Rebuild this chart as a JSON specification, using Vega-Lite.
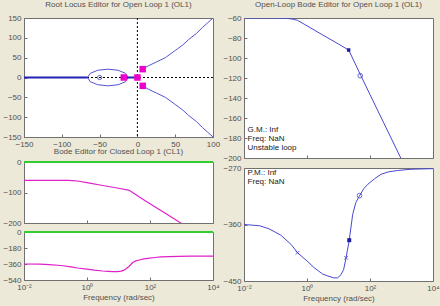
{
 "$schema": "https://vega.github.io/schema/vega-lite/v6.json",
 "background": "#ECE9D8",
 "padding": {"left": 2, "top": 0, "right": 12, "bottom": 12},
 "config": {
  "font": "Liberation Sans",
  "view": {"stroke": "#707070", "fill": "white"},
  "axis": {"domain": false, "grid": false, "ticks": true, "tickSize": -3, "tickColor": "#707070", "labelFont": "Liberation Sans", "labelFontSize": 8, "labelColor": "#505050", "labelPadding": 6, "labelFlush": false, "labelOverlap": false, "labelBound": false, "titleFont": "Liberation Sans", "titleFontSize": 8, "titleColor": "#505050", "titleFontWeight": "normal"},
  "title": {"font": "Liberation Sans", "fontSize": 8, "fontWeight": "normal", "color": "#505050", "anchor": "middle", "baseline": "bottom", "offset": 5}
 },
 "datasets": {
  "rlLoci": [
   {"b": "e", "i": 0, "x": -12, "y": 0}, {"b": "e", "i": 1, "x": -15.6, "y": 10.5}, {"b": "e", "i": 2, "x": -25.5, "y": 18.2}, {"b": "e", "i": 3, "x": -39, "y": 21}, {"b": "e", "i": 4, "x": -52.5, "y": 18.2}, {"b": "e", "i": 5, "x": -62.4, "y": 10.5}, {"b": "e", "i": 6, "x": -66, "y": 0}, {"b": "e", "i": 7, "x": -62.4, "y": -10.5}, {"b": "e", "i": 8, "x": -52.5, "y": -18.2}, {"b": "e", "i": 9, "x": -39, "y": -21}, {"b": "e", "i": 10, "x": -25.5, "y": -18.2}, {"b": "e", "i": 11, "x": -15.6, "y": -10.5}, {"b": "e", "i": 12, "x": -12, "y": 0},
   {"b": "u", "i": 0, "x": 7, "y": 21}, {"b": "u", "i": 1, "x": 15, "y": 30}, {"b": "u", "i": 2, "x": 25, "y": 39}, {"b": "u", "i": 3, "x": 37, "y": 50}, {"b": "u", "i": 4, "x": 50, "y": 68}, {"b": "u", "i": 5, "x": 60, "y": 82}, {"b": "u", "i": 6, "x": 68, "y": 96}, {"b": "u", "i": 7, "x": 78, "y": 111}, {"b": "u", "i": 8, "x": 86, "y": 126}, {"b": "u", "i": 9, "x": 93, "y": 138}, {"b": "u", "i": 10, "x": 100, "y": 150}, {"b": "u", "i": 11, "x": 104, "y": 157},
   {"b": "l", "i": 0, "x": 7, "y": -21}, {"b": "l", "i": 1, "x": 15, "y": -30}, {"b": "l", "i": 2, "x": 25, "y": -39}, {"b": "l", "i": 3, "x": 37, "y": -50}, {"b": "l", "i": 4, "x": 50, "y": -68}, {"b": "l", "i": 5, "x": 60, "y": -82}, {"b": "l", "i": 6, "x": 68, "y": -96}, {"b": "l", "i": 7, "x": 78, "y": -111}, {"b": "l", "i": 8, "x": 86, "y": -126}, {"b": "l", "i": 9, "x": 93, "y": -138}, {"b": "l", "i": 10, "x": 100, "y": -150}, {"b": "l", "i": 11, "x": 104, "y": -157}
  ],
  "rlAxis": [
   {"b": "a", "i": 0, "x": -150, "y": 0}, {"b": "a", "i": 1, "x": -66, "y": 0},
   {"b": "c", "i": 0, "x": -18, "y": 0}, {"b": "c", "i": 1, "x": 0, "y": 0}
  ],
  "poles": [{"x": -18, "y": 0}, {"x": 0, "y": 0}, {"x": 7, "y": 21}, {"x": 7, "y": -21}],
  "mag": [
   {"f": 0.01, "db": -60}, {"f": 0.1, "db": -60}, {"f": 0.251, "db": -60.5}, {"f": 0.355, "db": -61.2}, {"f": 0.501, "db": -62.3}, {"f": 1, "db": -67.8}, {"f": 3.16, "db": -77}, {"f": 10, "db": -86}, {"f": 20.9, "db": -92}, {"f": 25.1, "db": -97}, {"f": 51.3, "db": -117.7}, {"f": 100, "db": -136.6}, {"f": 316, "db": -169}, {"f": 1000, "db": -201.5}
  ],
  "phase": [
   {"f": 0.01, "deg": -360}, {"f": 0.0316, "deg": -362}, {"f": 0.0631, "deg": -367}, {"f": 0.148, "deg": -377}, {"f": 0.316, "deg": -392}, {"f": 0.501, "deg": -405}, {"f": 1, "deg": -418}, {"f": 1.7, "deg": -429}, {"f": 3.16, "deg": -439}, {"f": 4.57, "deg": -442}, {"f": 7.08, "deg": -445}, {"f": 9.33, "deg": -445}, {"f": 12, "deg": -440}, {"f": 14.5, "deg": -432}, {"f": 17.4, "deg": -413}, {"f": 21.9, "deg": -385}, {"f": 28.2, "deg": -344}, {"f": 35.5, "deg": -325}, {"f": 45.7, "deg": -315}, {"f": 63.1, "deg": -303}, {"f": 85.1, "deg": -296}, {"f": 141, "deg": -287}, {"f": 224, "deg": -280}, {"f": 398, "deg": -276}, {"f": 759, "deg": -274}, {"f": 1995, "deg": -272}, {"f": 10000, "deg": -271}
  ],
  "magMk": [{"f": 21, "db": -92, "m": "s"}, {"f": 49, "db": -117.7, "m": "o"}],
  "phaseMk": [{"f": 0.501, "deg": -405, "m": "x"}, {"f": 17.4, "deg": -413, "m": "x"}, {"f": 21.9, "deg": -385, "m": "s"}, {"f": 46.5, "deg": -314, "m": "o"}],
  "magTxt": [{"f": 0.013, "db": -172, "t": "G.M.: Inf"}, {"f": 0.013, "db": -181, "t": "Freq: NaN"}, {"f": 0.013, "db": -190, "t": "Unstable loop"}],
  "phaseTxt": [{"f": 0.013, "deg": -278, "t": "P.M.: Inf"}, {"f": 0.013, "deg": -292, "t": "Freq: NaN"}]
 },
 "hconcat": [
  {
   "vconcat": [
    {
     "width": 189, "height": 119,
     "title": {"text": "Root Locus Editor for Open Loop 1 (OL1)"},
     "layer": [
      {"data": {"values": [{"x": 0}]}, "mark": {"type": "rule", "color": "#000000", "strokeDash": [2, 2], "strokeWidth": 1},
       "encoding": {"x": {"field": "x", "type": "quantitative", "scale": {"domain": [-150, 100], "nice": false}, "axis": {"values": [-150, -100, -50, 0, 50, 100], "title": null, "labelOverlap": false}}}},
      {"data": {"values": [{"y": 0}]}, "mark": {"type": "rule", "color": "#000000", "strokeDash": [2, 2], "strokeWidth": 1},
       "encoding": {"y": {"field": "y", "type": "quantitative", "scale": {"domain": [-150, 150], "nice": false}, "axis": {"values": [-150, -100, -50, 0, 50, 100, 150], "title": null, "labelOverlap": false}}}},
      {"data": {"name": "rlLoci"}, "mark": {"type": "line", "color": "#5454D4", "strokeWidth": 1, "clip": true},
       "encoding": {"x": {"field": "x", "type": "quantitative", "scale": {"domain": [-150, 100], "nice": false}, "axis": {"values": [-150, -100, -50, 0, 50, 100], "title": null, "labelOverlap": false}}, "y": {"field": "y", "type": "quantitative", "scale": {"domain": [-150, 150], "nice": false}, "axis": {"values": [-150, -100, -50, 0, 50, 100, 150], "title": null, "labelOverlap": false}}, "detail": {"field": "b"}, "order": {"field": "i"}}},
      {"data": {"name": "rlAxis"}, "mark": {"type": "line", "color": "#2222B4", "strokeWidth": 2, "clip": true},
       "encoding": {"x": {"field": "x", "type": "quantitative", "scale": {"domain": [-150, 100], "nice": false}, "axis": {"values": [-150, -100, -50, 0, 50, 100], "title": null, "labelOverlap": false}}, "y": {"field": "y", "type": "quantitative", "scale": {"domain": [-150, 150], "nice": false}, "axis": {"values": [-150, -100, -50, 0, 50, 100, 150], "title": null, "labelOverlap": false}}, "detail": {"field": "b"}, "order": {"field": "i"}}},
      {"data": {"values": [{"x": -50, "y": 0}]}, "mark": {"type": "point", "shape": "circle", "filled": false, "color": "#2222B4", "size": 18, "strokeWidth": 1},
       "encoding": {"x": {"field": "x", "type": "quantitative", "scale": {"domain": [-150, 100], "nice": false}, "axis": {"values": [-150, -100, -50, 0, 50, 100], "title": null, "labelOverlap": false}}, "y": {"field": "y", "type": "quantitative", "scale": {"domain": [-150, 150], "nice": false}, "axis": {"values": [-150, -100, -50, 0, 50, 100, 150], "title": null, "labelOverlap": false}}}},
      {"data": {"name": "poles"}, "mark": {"type": "square", "color": "#EE00CC", "size": 42, "opacity": 1},
       "encoding": {"x": {"field": "x", "type": "quantitative", "scale": {"domain": [-150, 100], "nice": false}, "axis": {"values": [-150, -100, -50, 0, 50, 100], "title": null, "labelOverlap": false}}, "y": {"field": "y", "type": "quantitative", "scale": {"domain": [-150, 150], "nice": false}, "axis": {"values": [-150, -100, -50, 0, 50, 100, 150], "title": null, "labelOverlap": false}}}}
     ]
    },
    {
     "width": 189, "height": 7,
     "view": {"stroke": null, "fill": null},
     "data": {"values": []},
     "mark": {"type": "point"},
     "encoding": {}
    },
    {
     "width": 189, "height": 61,
     "title": {"text": "Bode Editor for Closed Loop 1 (CL1)", "offset": 2},
     "layer": [
      {"data": {"values": [{"y": 0}]}, "mark": {"type": "rule", "color": "#33CC33", "strokeWidth": 2},
       "encoding": {"y": {"field": "y", "type": "quantitative", "scale": {"domain": [-200, 0], "nice": false}, "axis": {"values": [0, -100, -200], "title": null, "labelOverlap": false}}}},
      {"data": {"name": "mag"}, "mark": {"type": "line", "color": "#E020C8", "strokeWidth": 1.2, "clip": true},
       "encoding": {"x": {"field": "f", "type": "quantitative", "scale": {"type": "log", "domain": [0.01, 10000], "nice": false}, "axis": {"values": [0.01, 1, 100, 10000], "labels": false, "title": null}}, "y": {"field": "db", "type": "quantitative", "scale": {"domain": [-200, 0], "nice": false}, "axis": {"values": [0, -100, -200], "title": null, "labelOverlap": false}}}}
     ]
    },
    {
     "width": 189, "height": 48,
     "layer": [
      {"data": {"values": [{"y": 0}]}, "mark": {"type": "rule", "color": "#33CC33", "strokeWidth": 2},
       "encoding": {"y": {"field": "y", "type": "quantitative", "scale": {"domain": [-540, 0], "nice": false}, "axis": {"values": [0, -180, -360, -540], "title": null, "labelOverlap": false}}}},
      {"data": {"name": "phase"}, "mark": {"type": "line", "color": "#E020C8", "strokeWidth": 1.2, "clip": true},
       "encoding": {"x": {"field": "f", "type": "quantitative", "scale": {"type": "log", "domain": [0.01, 10000], "nice": false}, "axis": {"values": [0.01, 1, 100, 10000], "labelOverlap": false, "labelExpr": "datum.value < 0.1 ? '10⁻²' : datum.value < 10 ? '10⁰' : datum.value < 1000 ? '10²' : '10⁴'", "title": "Frequency (rad/sec)", "titlePadding": 2}}, "y": {"field": "deg", "type": "quantitative", "scale": {"domain": [-540, 0], "nice": false}, "axis": {"values": [0, -180, -360, -540], "title": null, "labelOverlap": false}}}}
     ]
    }
   ],
   "spacing": 9,
   "bounds": "flush"
  },
  {
   "vconcat": [
    {
     "width": 189, "height": 140,
     "title": {"text": "Open-Loop Bode Editor for Open Loop 1 (OL1)"},
     "layer": [
      {"data": {"name": "mag"}, "mark": {"type": "line", "color": "#4848D0", "strokeWidth": 1, "clip": true},
       "encoding": {"x": {"field": "f", "type": "quantitative", "scale": {"type": "log", "domain": [0.01, 10000], "nice": false}, "axis": {"values": [0.01, 1, 100, 10000], "labels": false, "title": null}}, "y": {"field": "db", "type": "quantitative", "scale": {"domain": [-200, -60], "nice": false}, "axis": {"values": [-60, -80, -100, -120, -140, -160, -180, -200], "title": null, "labelOverlap": false}}}},
      {"data": {"name": "magMk"}, "transform": [{"filter": "datum.m === 's'"}], "mark": {"type": "square", "color": "#1C1CA0", "size": 12, "opacity": 1},
       "encoding": {"x": {"field": "f", "type": "quantitative", "scale": {"type": "log", "domain": [0.01, 10000], "nice": false}, "axis": {"values": [0.01, 1, 100, 10000], "labels": false, "title": null}}, "y": {"field": "db", "type": "quantitative", "scale": {"domain": [-200, -60], "nice": false}, "axis": {"values": [-60, -80, -100, -120, -140, -160, -180, -200], "title": null, "labelOverlap": false}}}},
      {"data": {"name": "magMk"}, "transform": [{"filter": "datum.m === 'o'"}], "mark": {"type": "point", "shape": "circle", "filled": false, "color": "#3030C0", "size": 22, "strokeWidth": 1},
       "encoding": {"x": {"field": "f", "type": "quantitative", "scale": {"type": "log", "domain": [0.01, 10000], "nice": false}, "axis": {"values": [0.01, 1, 100, 10000], "labels": false, "title": null}}, "y": {"field": "db", "type": "quantitative", "scale": {"domain": [-200, -60], "nice": false}, "axis": {"values": [-60, -80, -100, -120, -140, -160, -180, -200], "title": null, "labelOverlap": false}}}},
      {"data": {"name": "magTxt"}, "mark": {"type": "text", "align": "left", "baseline": "middle", "fontSize": 8, "color": "#202020", "font": "Liberation Sans"},
       "encoding": {"x": {"field": "f", "type": "quantitative", "scale": {"type": "log", "domain": [0.01, 10000], "nice": false}, "axis": {"values": [0.01, 1, 100, 10000], "labels": false, "title": null}}, "y": {"field": "db", "type": "quantitative", "scale": {"domain": [-200, -60], "nice": false}, "axis": {"values": [-60, -80, -100, -120, -140, -160, -180, -200], "title": null, "labelOverlap": false}}, "text": {"field": "t"}}}
     ]
    },
    {
     "width": 189, "height": 113,
     "layer": [
      {"data": {"name": "phase"}, "mark": {"type": "line", "color": "#4848D0", "strokeWidth": 1, "clip": true},
       "encoding": {"x": {"field": "f", "type": "quantitative", "scale": {"type": "log", "domain": [0.01, 10000], "nice": false}, "axis": {"values": [0.01, 1, 100, 10000], "labelOverlap": false, "labelExpr": "datum.value < 0.1 ? '10⁻²' : datum.value < 10 ? '10⁰' : datum.value < 1000 ? '10²' : '10⁴'", "title": "Frequency (rad/sec)", "titlePadding": 2}}, "y": {"field": "deg", "type": "quantitative", "scale": {"domain": [-450, -270], "nice": false}, "axis": {"values": [-270, -315, -360, -405, -450], "title": null, "labelOverlap": false}}}},
      {"data": {"name": "phaseMk"}, "transform": [{"filter": "datum.m === 's'"}], "mark": {"type": "square", "color": "#1C1CA0", "size": 16, "opacity": 1},
       "encoding": {"x": {"field": "f", "type": "quantitative", "scale": {"type": "log", "domain": [0.01, 10000], "nice": false}}, "y": {"field": "deg", "type": "quantitative", "scale": {"domain": [-450, -270], "nice": false}}}},
      {"data": {"name": "phaseMk"}, "transform": [{"filter": "datum.m === 'o'"}], "mark": {"type": "point", "shape": "circle", "filled": false, "color": "#3030C0", "size": 22, "strokeWidth": 1},
       "encoding": {"x": {"field": "f", "type": "quantitative", "scale": {"type": "log", "domain": [0.01, 10000], "nice": false}}, "y": {"field": "deg", "type": "quantitative", "scale": {"domain": [-450, -270], "nice": false}}}},
      {"data": {"name": "phaseMk"}, "transform": [{"filter": "datum.m === 'x'"}], "mark": {"type": "point", "shape": "M-1,-1L1,1M1,-1L-1,1", "filled": false, "color": "#3030C0", "size": 14, "strokeWidth": 1},
       "encoding": {"x": {"field": "f", "type": "quantitative", "scale": {"type": "log", "domain": [0.01, 10000], "nice": false}}, "y": {"field": "deg", "type": "quantitative", "scale": {"domain": [-450, -270], "nice": false}}}},
      {"data": {"name": "phaseTxt"}, "mark": {"type": "text", "align": "left", "baseline": "middle", "fontSize": 8, "color": "#202020", "font": "Liberation Sans"},
       "encoding": {"x": {"field": "f", "type": "quantitative", "scale": {"type": "log", "domain": [0.01, 10000], "nice": false}}, "y": {"field": "deg", "type": "quantitative", "scale": {"domain": [-450, -270], "nice": false}}, "text": {"field": "t"}}}
     ]
    }
   ],
   "spacing": 10,
   "bounds": "flush"
  }
 ],
 "spacing": 1
}
